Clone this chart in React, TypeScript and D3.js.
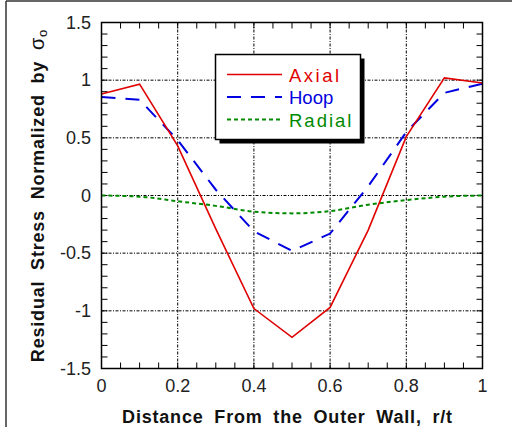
import * as d3 from 'd3';

const xs = [0, 0.1, 0.2, 0.3, 0.4, 0.5, 0.6, 0.7, 0.8, 0.9, 1.0];
const axial = [0.88, 0.965, 0.43, -0.29, -0.98, -1.23, -0.97, -0.3, 0.51, 1.02, 0.975];
const hoop = [0.855, 0.83, 0.48, 0.05, -0.31, -0.48, -0.33, 0.08, 0.55, 0.89, 0.97];
const radial = [0.0, -0.01, -0.05, -0.09, -0.14, -0.155, -0.135, -0.08, -0.04, -0.01, 0.0];

const xTickLabels = ['0', '0.2', '0.4', '0.6', '0.8', '1'];
const yTickLabels = ['-1.5', '-1', '-0.5', '0', '0.5', '1', '1.5'];

const series = [
  { name: 'Radial', values: radial, color: '#008a00', dash: '4,3', width: 2, spacing: 2 },
  { name: 'Hoop', values: hoop, color: '#0000e0', dash: '14,10', width: 2, spacing: 0 },
  { name: 'Axial', values: axial, color: '#e00000', dash: null, width: 1.6, spacing: 2.5 },
];

const FONT = '"Liberation Sans", Arial, sans-serif';

export default function App() {
  const W = 512, H = 427;
  const x = d3.scaleLinear().domain([0, 1]).range([101.5, 482.5]);
  const y = d3.scaleLinear().domain([-1.5, 1.5]).range([368.5, 22.5]);

  const xMinor = d3.range(0, 1.0001, 0.05);
  const yMinor = d3.range(-1.5, 1.5001, 0.1);
  const xMajor = xTickLabels.map(Number);
  const yMajor = yTickLabels.map(Number);
  const tick = 6;

  const line = (vals: number[], smooth: boolean) =>
    d3.line<number>()
      .x((_, i) => x(xs[i]))
      .y(d => y(d))
      .curve(smooth ? d3.curveMonotoneX : d3.curveLinear)(vals) as string;

  const legendOrder = ['Axial', 'Hoop', 'Radial'];
  const lg = { x: 215.5, y: 54.5, w: 145, h: 85 };

  return (
    <div style={{ position: 'fixed', left: 0, top: 0 }}>
      <svg width={W} height={H} style={{ display: 'block', background: '#fff' }} fontFamily={FONT}>
        {/* outer frame */}
        <line x1={6} y1={1} x2={W} y2={1} stroke="#333" strokeWidth={1.5} />
        <line x1={6} y1={1} x2={6} y2={H} stroke="#333" strokeWidth={1.5} />

        {/* grid */}
        {xMajor.filter(v => v > 0 && v < 1).map(v => (
          <line key={'gx' + v} x1={x(v)} x2={x(v)} y1={y(-1.5)} y2={y(1.5)}
            stroke="#000" strokeWidth={1} strokeDasharray="3,1.5,1,1.5" />
        ))}
        {yMajor.filter(v => v > -1.5 && v < 1.5).map(v => (
          <line key={'gy' + v} x1={x(0)} x2={x(1)} y1={y(v)} y2={y(v)}
            stroke="#000" strokeWidth={1} strokeDasharray="3,1.5,1,1.5" />
        ))}

        {/* ticks on all four sides */}
        {xMinor.map(v => (
          <g key={'tx' + v}>
            <line x1={x(v)} x2={x(v)} y1={y(-1.5)} y2={y(-1.5) - tick} stroke="#000" />
            <line x1={x(v)} x2={x(v)} y1={y(1.5)} y2={y(1.5) + tick} stroke="#000" />
          </g>
        ))}
        {yMinor.map(v => (
          <g key={'ty' + v}>
            <line x1={x(0)} x2={x(0) + tick} y1={y(v)} y2={y(v)} stroke="#000" />
            <line x1={x(1)} x2={x(1) - tick} y1={y(v)} y2={y(v)} stroke="#000" />
          </g>
        ))}

        {/* data lines */}
        {series.map(s => (
          <path key={s.name} d={line(s.values, s.name === 'Radial')} fill="none"
            stroke={s.color} strokeWidth={s.width} strokeDasharray={s.dash || undefined} />
        ))}

        {/* frame */}
        <rect x={x(0)} y={y(1.5)} width={x(1) - x(0)} height={y(-1.5) - y(1.5)}
          fill="none" stroke="#000" strokeWidth={1.5} />

        {/* tick labels */}
        {xTickLabels.map(t => (
          <text key={'lx' + t} x={x(+t)} y={392} textAnchor="middle" fontSize={18} fill="#222">{t}</text>
        ))}
        {yTickLabels.map(t => (
          <text key={'ly' + t} x={91} y={y(+t)} dy="0.35em" textAnchor="end" fontSize={18} fill="#222">{t}</text>
        ))}

        {/* legend */}
        <rect x={lg.x + 4} y={lg.y + 4} width={lg.w} height={lg.h} fill="#000" />
        <rect x={lg.x} y={lg.y} width={lg.w} height={lg.h} fill="#fff" stroke="#000" strokeWidth={1.5} />
        {legendOrder.map((n, i) => {
          const s = series.find(d => d.name === n)!;
          const ly = lg.y + 20 + i * 22.5;
          return (
            <g key={'lg' + n}>
              <line x1={227} x2={282} y1={ly} y2={ly} stroke={s.color} strokeWidth={s.width}
                strokeDasharray={s.dash || undefined} />
              <text x={289} y={ly + 7} fontSize={18.5} fill={s.color} letterSpacing={s.spacing}>{n}</text>
            </g>
          );
        })}

        {/* axis titles */}
        <text x={287.5} y={422.5} textAnchor="middle" fontSize={18} fontWeight="bold"
          letterSpacing={0.8} wordSpacing={5} fill="#111">Distance From the Outer Wall, r/t</text>
        <text transform={`translate(43.5,${(y(1.5) + y(-1.5)) / 2}) rotate(-90)`} textAnchor="middle"
          fontSize={18} fontWeight="bold" letterSpacing={0.8} wordSpacing={5} fill="#111">
          Residual Stress Normalized by <tspan fontWeight="normal" fontSize={20}>σ</tspan>
          <tspan fontWeight="normal" fontSize={13} dy={3}>o</tspan>
        </text>
      </svg>
    </div>
  );
}
